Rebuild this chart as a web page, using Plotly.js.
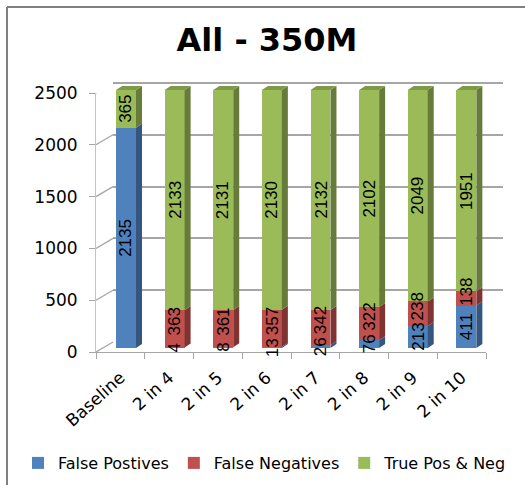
<!DOCTYPE html>
<html>
<head>
<meta charset="utf-8">
<script src="https://cdn.plot.ly/plotly-3.0.1.min.js"></script>
<style>html,body{margin:0;padding:0;background:#fff}</style>
</head>
<body>
<div id="chart" style="width:525px;height:485px"></div>
<script>
const categories = ['Baseline', '2 in 4', '2 in 5', '2 in 6', '2 in 7', '2 in 8', '2 in 9', '2 in 10'];
const falsePositives = [2135, 4, 8, 13, 26, 76, 213, 411];
const falseNegatives = [0, 363, 361, 357, 342, 322, 238, 138];
const truePosNeg = [365, 2133, 2131, 2130, 2132, 2102, 2049, 1951];
const yTicks = [0, 500, 1000, 1500, 2000, 2500];

const W = 525, H = 485;
const BAR_W = 0.41;
const FONT = '"DejaVu Sans", Verdana, sans-serif';
const domX = (a, b) => [a / W, b / W];
const domY = (top, bottom) => [1 - bottom / H, 1 - top / H];

// fake 3d depth, in data units of the bar axes
const DX = 6 / 48.6, DY = 38.8;

const xs = categories.map((_, i) => i);
const boundaries = categories.concat('').map((_, i) => i - 0.5);

// side faces of a stacked segment, one closed polygon per bar
function sideFaces(values, below) {
  const x = [], y = [];
  values.forEach((v, i) => {
    const r = i + BAR_W / 2, y0 = below[i], y1 = below[i] + v;
    x.push(r, r + DX, r + DX, r, r, null);
    y.push(y0, y0 + DY, y1 + DY, y1, y0, null);
  });
  return { x, y };
}

function faceTrace(poly, color) {
  return {
    type: 'scatter', mode: 'lines', x: poly.x, y: poly.y, xaxis: 'x3', yaxis: 'y3',
    fill: 'toself', fillcolor: color, line: { width: 0, color: color },
    hoverinfo: 'skip', showlegend: false,
  };
}

function barTrace(name, values, color) {
  return {
    type: 'bar', name: name, x: xs, y: values, xaxis: 'x3', yaxis: 'y3',
    width: BAR_W, marker: { color: color, line: { width: 0 } },
  };
}

const stackFN = falsePositives.slice();
const stackTP = falsePositives.map((v, i) => v + falseNegatives[i]);
const zeros = categories.map(() => 0);

// top faces of the green segments
const topX = [], topY = [];
truePosNeg.forEach((v, i) => {
  const l = i - BAR_W / 2, r = i + BAR_W / 2, t = stackTP[i] + v;
  topX.push(l, l + DX, r + DX, r, l, null);
  topY.push(t, t + DY, t + DY, t, t, null);
});

// slanted wall lines joining the front axis ticks to the back wall
const wallX = [], wallY = [];
yTicks.forEach(t => {
  wallX.push(-0.5, -0.5 + 17 / 48.75, null);
  wallY.push(t, t + 2500 * 10 / 259, null);
});

// value labels, centred on each segment and free to spill out of thin ones
function segmentLabels(values, below, yshift) {
  return values.map((v, i) => ({
    xref: 'x3', yref: 'y3', x: i, y: below[i] + v / 2, text: String(v), showarrow: false,
    textangle: -90, xanchor: 'center', yanchor: 'middle', yshift: yshift,
    font: { family: '"Liberation Sans", Arial, sans-serif', size: 17, color: '#000' },
  })).filter((_, i) => values[i] > 0);
}

const data = [
  // back wall subplot gets the gridlines only
  { type: 'scatter', mode: 'none', x: [0], y: [0], xaxis: 'x', yaxis: 'y', hoverinfo: 'skip', showlegend: false },
  {
    type: 'scatter', mode: 'lines', x: wallX, y: wallY, xaxis: 'x2', yaxis: 'y2',
    line: { color: '#a6a6a6', width: 1.3 }, hoverinfo: 'skip', showlegend: false, cliponaxis: false,
  },
  barTrace('False Postives', falsePositives, '#4f81bd'),
  barTrace('False Negatives', falseNegatives, '#c0504d'),
  barTrace('True Pos & Neg', truePosNeg, '#9bbb59'),
  faceTrace(sideFaces(falsePositives, zeros), '#34567f'),
  faceTrace(sideFaces(falseNegatives, stackFN), '#7f3432'),
  faceTrace(sideFaces(truePosNeg, stackTP), '#677c3a'),
  faceTrace({ x: topX, y: topY }, '#7e9a47'),
];

const layout = {
  width: W, height: H,
  margin: { l: 0, r: 0, t: 0, b: 0 },
  paper_bgcolor: '#fff', plot_bgcolor: 'rgba(0,0,0,0)',
  font: { family: FONT, color: '#000' },
  title: {
    text: '<b>All - 350M</b>', font: { family: FONT, size: 32, color: '#000' },
    x: 267 / W, xanchor: 'center', y: 1 - 40 / H, yanchor: 'middle',
  },
  barmode: 'stack',
  showlegend: true,
  legend: {
    orientation: 'h', x: 18 / W, xanchor: 'left', y: 1 - 463 / H, yanchor: 'middle',
    font: { family: FONT, size: 16, color: '#000' },
    traceorder: 'normal', bgcolor: 'rgba(0,0,0,0)',
  },
  // back wall, range runs past 2500 so the top gridline is kept
  xaxis: { domain: domX(113, 503), range: [-0.5, 7.5], visible: false, fixedrange: true },
  yaxis: {
    domain: domY(72.64, 342), range: [0, 2600], tickvals: yTicks, showticklabels: false, ticks: '',
    showgrid: true, gridcolor: '#a6a6a6', gridwidth: 1.5, zeroline: false, showline: false, fixedrange: true,
  },
  // front axes, carry the labels
  xaxis2: {
    anchor: 'y2', domain: domX(96, 486), range: [-0.5, 7.5],
    tickvals: xs, ticktext: categories, ticks: '', tickangle: -42, ticklabelstandoff: 8,
    minor: { tickvals: boundaries, ticks: 'outside', ticklen: 6, tickwidth: 1.3, tickcolor: '#a6a6a6', showgrid: false },
    showgrid: false, zeroline: false, showline: true, linecolor: '#a6a6a6', linewidth: 1.3,
    tickfont: { family: FONT, size: 17, color: '#000' }, fixedrange: true,
  },
  yaxis2: {
    anchor: 'x2', domain: domY(93, 352), range: [0, 2500],
    tickvals: yTicks, ticks: 'outside', ticklen: 6, tickwidth: 1.3, tickcolor: '#a6a6a6',
    showgrid: false, zeroline: false, showline: true, linecolor: '#c4c4c4', linewidth: 1,
    ticklabelstandoff: 8,
    tickfont: { family: FONT, size: 17, color: '#000' }, fixedrange: true,
  },
  // bars sit half way between the front and the back
  xaxis3: { anchor: 'y3', domain: domX(101.7, 490.7), range: [-0.5, 7.5], visible: false, fixedrange: true },
  yaxis3: { anchor: 'x3', domain: domY(79.68, 348), range: [0, 2600], visible: false, fixedrange: true },
  annotations: [
    ...segmentLabels(falsePositives, zeros, 0),
    ...segmentLabels(falseNegatives, stackFN, 7),
    ...segmentLabels(truePosNeg, stackTP, 0),
  ],
  shapes: [
    { type: 'line', xref: 'paper', yref: 'paper', x0: 7 / W, x1: 7 / W, y0: 0, y1: 1 - 7 / H, line: { color: '#808080', width: 2 } },
    { type: 'line', xref: 'paper', yref: 'paper', x0: 7 / W, x1: 1, y0: 1 - 7 / H, y1: 1 - 7 / H, line: { color: '#808080', width: 2 } },
  ],
};

Plotly.newPlot('chart', data, layout, { displayModeBar: false, responsive: false });
</script>
</body>
</html>
